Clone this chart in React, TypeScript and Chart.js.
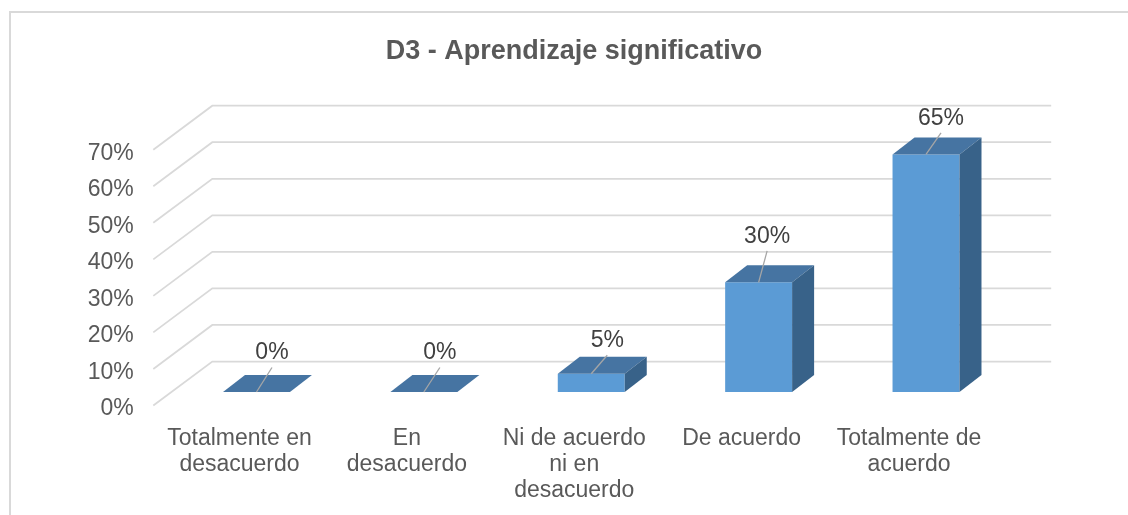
import React, { useEffect, useRef } from "react";
import { Chart, registerables } from "chart.js";

Chart.register(...registerables);

// ---------- data ----------
const TITLE = "D3 - Aprendizaje significativo";
const categories: string[][] = [
  ["Totalmente en", "desacuerdo"],
  ["En", "desacuerdo"],
  ["Ni de acuerdo", "ni en", "desacuerdo"],
  ["De acuerdo"],
  ["Totalmente de", "acuerdo"],
];
const values: number[] = [0, 0, 5, 30, 65];
const Y_MIN = 0;
const Y_MAX = 70;
const Y_STEP = 10;

// ---------- styles ----------
const FONT = '"Liberation Sans", Arial, sans-serif';
const FRONT = "#5B9BD5";
const TOP = "#4674A2";
const SIDE = "#386289";
const GRID = "#D9D9D9";
const TEXT = "#595959";
const LABEL_TEXT = "#404040";
const BAR_DEPTH = { dx: 22, dy: -17 };
const WALL_FRONT = { dx: -19.5, dy: 13.5 };
const WALL_BACK = { dx: 39.5, dy: -30.5 };
const LABEL_SHIFT = [
  { dx: 15.5, dy: -40 },
  { dx: 16, dy: -40 },
  { dx: 16, dy: -34 },
  { dx: 8.5, dy: -47 },
  { dx: 15, dy: -37 },
];

const threeD = {
  id: "threeD",
  beforeDraw(chart: any) {
    const ctx = chart.ctx;
    ctx.save();
    ctx.fillStyle = "#ffffff";
    ctx.fillRect(0, 0, chart.width, chart.height);
    ctx.strokeStyle = GRID;
    ctx.lineWidth = 2;
    ctx.strokeRect(10, 12, chart.width + 100, chart.height + 100);
    ctx.restore();
  },
  beforeDatasetsDraw(chart: any) {
    const { ctx, chartArea } = chart;
    const y = chart.scales.y;
    ctx.save();
    ctx.strokeStyle = GRID;
    ctx.lineWidth = 1.75;
    y.ticks.forEach((t: any) => {
      const py = y.getPixelForValue(t.value);
      ctx.beginPath();
      ctx.moveTo(chartArea.left + WALL_FRONT.dx, py + WALL_FRONT.dy);
      ctx.lineTo(chartArea.left + WALL_BACK.dx, py + WALL_BACK.dy);
      ctx.lineTo(chartArea.right + WALL_BACK.dx + 2, py + WALL_BACK.dy);
      ctx.stroke();
    });
    ctx.restore();
  },
  afterDatasetsDraw(chart: any) {
    const ctx = chart.ctx;
    const meta = chart.getDatasetMeta(0);
    ctx.save();
    meta.data.forEach((bar: any, i: number) => {
      const { x, y, base, width } = bar.getProps(["x", "y", "base", "width"], true);
      const l = x - width / 2;
      const r = x + width / 2;
      const { dx, dy } = BAR_DEPTH;
      // top face
      ctx.fillStyle = TOP;
      ctx.beginPath();
      ctx.moveTo(l, y);
      ctx.lineTo(l + dx, y + dy);
      ctx.lineTo(r + dx, y + dy);
      ctx.lineTo(r, y);
      ctx.closePath();
      ctx.fill();
      // side face
      if (base - y > 0.5) {
        ctx.fillStyle = SIDE;
        ctx.beginPath();
        ctx.moveTo(r, y);
        ctx.lineTo(r + dx, y + dy);
        ctx.lineTo(r + dx, base + dy);
        ctx.lineTo(r, base);
        ctx.closePath();
        ctx.fill();
      }
      // leader line + label
      const s = LABEL_SHIFT[i];
      const lx = x + s.dx;
      const ly = y + s.dy;
      ctx.strokeStyle = "#A6A6A6";
      ctx.lineWidth = 1.3;
      ctx.beginPath();
      ctx.moveTo(x, y);
      ctx.lineTo(lx, ly + 15.5);
      ctx.stroke();
      ctx.fillStyle = LABEL_TEXT;
      ctx.font = `23px ${FONT}`;
      ctx.textAlign = "center";
      ctx.textBaseline = "middle";
      ctx.fillText(`${values[i]}%`, lx, ly + 1);
    });
    ctx.restore();
  },
};

export default function App() {
  const ref = useRef<HTMLCanvasElement | null>(null);
  useEffect(() => {
    if (!ref.current) return;
    const chart = new Chart(ref.current, {
      type: "bar",
      data: {
        labels: categories,
        datasets: [
          {
            data: values,
            backgroundColor: FRONT,
            borderWidth: 0,
            barPercentage: 0.4,
            categoryPercentage: 1,
          },
        ],
      },
      options: {
        responsive: false,
        animation: false,
        devicePixelRatio: 1,
        layout: { padding: { left: 70, right: 50, top: 0, bottom: 0 } },
        plugins: {
          legend: { display: false },
          tooltip: { enabled: false },
          title: {
            display: true,
            text: TITLE,
            color: TEXT,
            font: { family: FONT, size: 27, weight: "bold", lineHeight: 1.2 },
            padding: { top: 35.5, bottom: 68.3 },
          },
        },
        scales: {
          x: {
            grid: { display: false, drawTicks: false },
            border: { display: false },
            ticks: {
              color: TEXT,
              font: { family: FONT, size: 23, lineHeight: 1.15 },
              padding: 33,
              labelOffset: -17,
              maxRotation: 0,
              autoSkip: false,
            },
            afterFit: (s: any) => {
              s.height = 123;
            },
          },
          y: {
            min: Y_MIN,
            max: Y_MAX,
            grid: { display: false, drawTicks: false },
            border: { display: false },
            ticks: {
              stepSize: Y_STEP,
              color: TEXT,
              font: { family: FONT, size: 23 },
              padding: 39,
              labelOffset: 17,
              callback: (v: any) => `${v}%`,
            },
            afterFit: (s: any) => {
              s.width = 102.8;
            },
          },
          y2: {
            position: "right",
            display: true,
            grid: { display: false, drawTicks: false },
            border: { display: false },
            ticks: { display: false },
            afterFit: (s: any) => {
              s.width = 68.3;
            },
          },
        },
      },
      plugins: [threeD],
    });
    return () => chart.destroy();
  }, []);
  return (
    <div style={{ position: "fixed", left: 0, top: 0, width: 1128, height: 515 }}>
      <canvas ref={ref} width={1128} height={515} style={{ display: "block" }} />
    </div>
  );
}
